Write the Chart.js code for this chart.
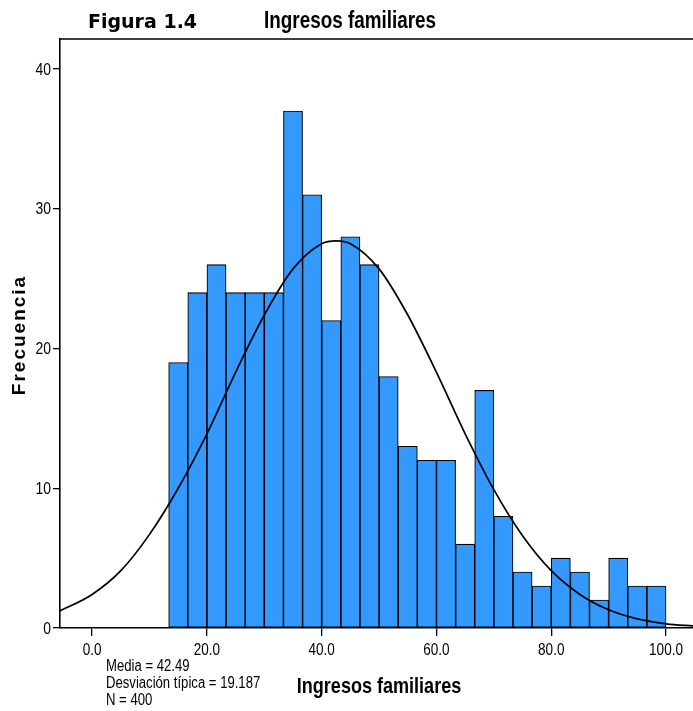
<!DOCTYPE html>
<html>
<head>
<meta charset="utf-8">
<script src="https://cdn.jsdelivr.net/npm/chart.js@4.4.1/dist/chart.umd.min.js"></script>
<style>
  html, body { margin: 0; padding: 0; background: #fff; }
  #wrap { position: relative; width: 693px; height: 711px; }
</style>
</head>
<body>
<div id="wrap"><canvas id="hist"></canvas></div>
<script>
// Histograma: centro de cada intervalo (ancho ~3.33) y frecuencias
const binCenters = [15.00, 18.33, 21.67, 25.00, 28.33, 31.67, 35.00, 38.33, 41.67, 45.00, 48.33, 51.67, 55.00,
  58.33, 61.67, 65.00, 68.33, 71.67, 75.00, 78.33, 81.67, 85.00, 88.33, 91.67, 95.00, 98.33]
const counts = [19, 24, 26, 24, 24, 24, 37, 31, 22, 28, 26, 18, 13, 12, 12, 6, 17, 8, 4, 3, 5, 4, 2, 5, 3, 3]

// Curva normal
const curveX = [-6, 0, 5, 10, 15, 20, 25, 30, 35, 40, 42.5, 45, 50, 55, 60, 65, 70, 75, 80, 85, 90, 95, 100, 105]
const curveY = [1.15, 2.4, 4.1, 6.7, 10.0, 13.9, 18.3, 22.4, 25.7, 27.5, 27.7, 27.5, 25.7, 22.4, 18.3, 13.9, 9.9, 6.6, 4.1, 2.4, 1.3, 0.65, 0.3, 0.14]

const xTicks = [0, 20, 40, 60, 80, 100]
const yTicks = [0, 10, 20, 30, 40]

const statsLines = ['Media = 42.49', 'Desviación típica = 19.187', 'N = 400']

const sans = '"Liberation Sans", Arial, sans-serif'

// texto "estrecho": Liberation Sans comprimida en horizontal (como Arial Narrow)
function narrowText(ctx, txt, x, y, font, align, baseline) {
  ctx.save()
  ctx.translate(x, y)
  ctx.scale(0.82, 1)
  ctx.font = font
  ctx.textAlign = align || 'left'
  ctx.textBaseline = baseline || 'alphabetic'
  ctx.fillText(txt, 0, 0)
  ctx.restore()
}

const textos = {
  id: 'textos',
  afterDraw(chart) {
    const { ctx, chartArea, scales } = chart
    ctx.save()
    // borde superior
    ctx.strokeStyle = '#000'
    ctx.lineWidth = 1.5
    ctx.beginPath()
    ctx.moveTo(chartArea.left, chartArea.top)
    ctx.lineTo(chartArea.right, chartArea.top)
    ctx.stroke()

    ctx.fillStyle = '#000'

    // etiquetas de los ejes
    scales.x.ticks.forEach(t => {
      narrowText(ctx, Number(t.value).toFixed(1), scales.x.getPixelForValue(t.value), 655, '16.5px ' + sans, 'center')
    })
    scales.y.ticks.forEach(t => {
      narrowText(ctx, String(t.value), 51, scales.y.getPixelForValue(t.value) + 1, '17px ' + sans, 'right', 'middle')
    })

    ctx.font = 'bold 19px "DejaVu Sans", sans-serif'
    ctx.textAlign = 'left'
    ctx.textBaseline = 'alphabetic'
    ctx.fillText('Figura 1.4', 88, 28)

    narrowText(ctx, 'Ingresos familiares', 350, 28, 'bold 23px ' + sans, 'center')
    narrowText(ctx, 'Ingresos familiares', 379, 693, 'bold 22px ' + sans, 'center')

    statsLines.forEach((t, i) => narrowText(ctx, t, 106, 671 + i * 17, '16px ' + sans, 'left'))

    ctx.translate(25, 335)
    ctx.rotate(-Math.PI / 2)
    ctx.font = 'bold 19px ' + sans
    ctx.letterSpacing = '2px'
    ctx.textAlign = 'center'
    ctx.textBaseline = 'alphabetic'
    ctx.fillText('Frecuencia', 0, 0)
    ctx.restore()
  }
}

new Chart(document.getElementById('hist'), {
  type: 'bar',
  data: {
    datasets: [
      {
        type: 'line',
        label: 'Normal',
        data: curveX.map((x, i) => ({ x, y: curveY[i] })),
        borderColor: '#000',
        borderWidth: 1.7,
        pointRadius: 0,
        cubicInterpolationMode: 'monotone',
        fill: false,
        order: 0
      },
      {
        type: 'bar',
        label: 'Frecuencia',
        data: binCenters.map((x, i) => ({ x, y: counts[i] })),
        backgroundColor: '#3399FF',
        borderColor: '#000',
        borderWidth: 1.1,
        borderSkipped: false,
        barPercentage: 1,
        categoryPercentage: 1,
        order: 1
      }
    ]
  },
  options: {
    responsive: true,
    maintainAspectRatio: false,
    animation: false,
    layout: { padding: { top: 39, right: 0, left: 0, bottom: 0 } },
    plugins: { legend: { display: false }, tooltip: { enabled: false }, title: { display: false } },
    scales: {
      x: {
        type: 'linear',
        min: -5.6,
        max: 104.7,
        offset: false,
        afterBuildTicks: s => { s.ticks = xTicks.map(v => ({ value: v })) },
        afterFit: s => { s.height = 83 },
        grid: { display: true, drawOnChartArea: false, drawTicks: true, tickLength: 8, color: '#000', lineWidth: 1.3, offset: false },
        border: { display: true, color: '#000', width: 1.6 },
        ticks: { display: false }
      },
      y: {
        type: 'linear',
        min: 0,
        max: 42.15,
        afterBuildTicks: s => { s.ticks = yTicks.map(v => ({ value: v })) },
        afterFit: s => { s.width = 60 },
        grid: { display: true, drawOnChartArea: false, drawTicks: true, tickLength: 7, color: '#000', lineWidth: 1.3 },
        border: { display: true, color: '#000', width: 1.6 },
        ticks: { display: false }
      }
    }
  },
  plugins: [textos]
})
</script>
</body>
</html>
